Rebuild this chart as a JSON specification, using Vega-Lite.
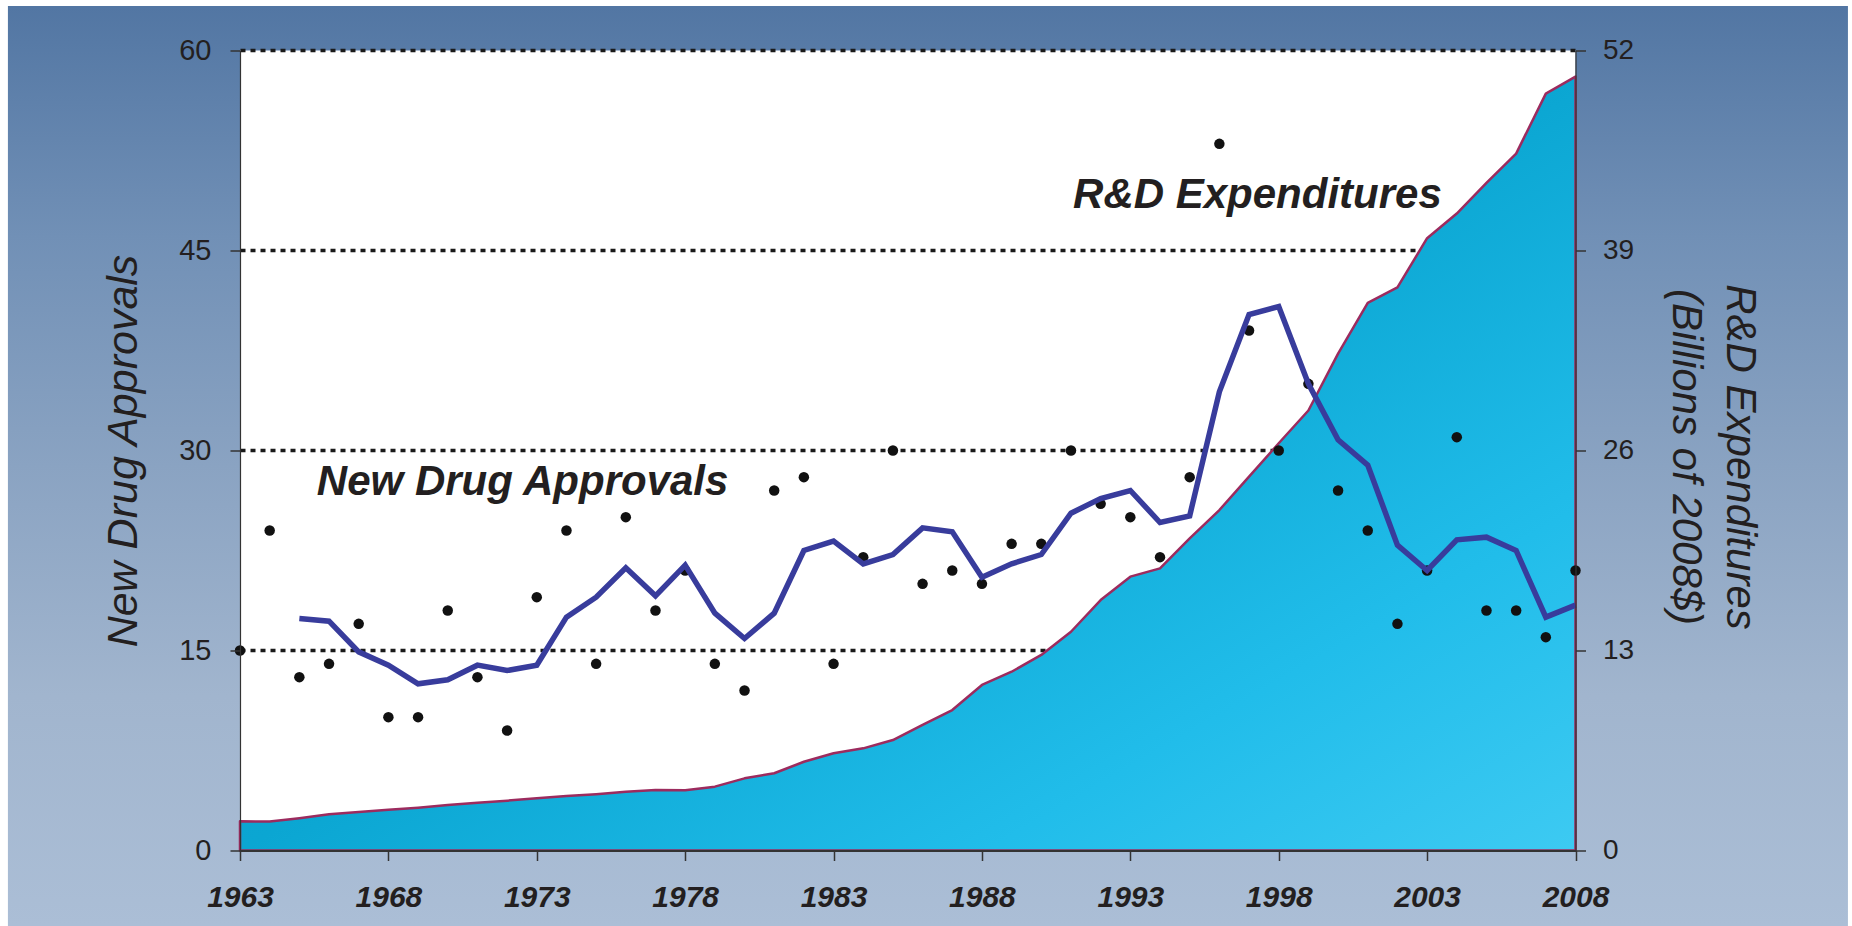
{
  "$schema": "https://vega.github.io/schema/vega-lite/v6.json",
  "width": 1335.5,
  "height": 800,
  "autosize": {"type": "none"},
  "padding": {"left": 240, "top": 50.5, "right": 276.5, "bottom": 75.5},
  "background": "white",
  "config": {
    "view": {"stroke": null},
    "axis": {"grid": false, "zindex": 1, "labelFont": "Liberation Sans", "titleFont": "Liberation Sans", "labelColor": "#231f20", "titleColor": "#231f20", "domainColor": "#333333", "tickColor": "#333333"}
  },
  "datasets": {
    "main": [
      {"year": 1963, "approvals": 15, "avg": null, "rd": 1.9},
      {"year": 1964, "approvals": 24, "avg": null, "rd": 1.88},
      {"year": 1965, "approvals": 13, "avg": 17.4, "rd": 2.1},
      {"year": 1966, "approvals": 14, "avg": 17.2, "rd": 2.35},
      {"year": 1967, "approvals": 17, "avg": 14.9, "rd": 2.5},
      {"year": 1968, "approvals": 10, "avg": 13.9, "rd": 2.65},
      {"year": 1969, "approvals": 10, "avg": 12.5, "rd": 2.78},
      {"year": 1970, "approvals": 18, "avg": 12.8, "rd": 2.95},
      {"year": 1971, "approvals": 13, "avg": 13.9, "rd": 3.1},
      {"year": 1972, "approvals": 9, "avg": 13.5, "rd": 3.24},
      {"year": 1973, "approvals": 19, "avg": 13.9, "rd": 3.39},
      {"year": 1974, "approvals": 24, "avg": 17.5, "rd": 3.54},
      {"year": 1975, "approvals": 14, "avg": 19.0, "rd": 3.66},
      {"year": 1976, "approvals": 25, "avg": 21.2, "rd": 3.82},
      {"year": 1977, "approvals": 18, "avg": 19.1, "rd": 3.93},
      {"year": 1978, "approvals": 21, "avg": 21.4, "rd": 3.92},
      {"year": 1979, "approvals": 14, "avg": 17.8, "rd": 4.15},
      {"year": 1980, "approvals": 12, "avg": 15.9, "rd": 4.69},
      {"year": 1981, "approvals": 27, "avg": 17.8, "rd": 5.02},
      {"year": 1982, "approvals": 28, "avg": 22.5, "rd": 5.77},
      {"year": 1983, "approvals": 14, "avg": 23.2, "rd": 6.32},
      {"year": 1984, "approvals": 22, "avg": 21.5, "rd": 6.64},
      {"year": 1985, "approvals": 30, "avg": 22.2, "rd": 7.18},
      {"year": 1986, "approvals": 20, "avg": 24.2, "rd": 8.16},
      {"year": 1987, "approvals": 21, "avg": 23.9, "rd": 9.13},
      {"year": 1988, "approvals": 20, "avg": 20.5, "rd": 10.76},
      {"year": 1989, "approvals": 23, "avg": 21.5, "rd": 11.62},
      {"year": 1990, "approvals": 23, "avg": 22.2, "rd": 12.71},
      {"year": 1991, "approvals": 30, "avg": 25.3, "rd": 14.22},
      {"year": 1992, "approvals": 26, "avg": 26.4, "rd": 16.28},
      {"year": 1993, "approvals": 25, "avg": 27.0, "rd": 17.8},
      {"year": 1994, "approvals": 22, "avg": 24.6, "rd": 18.34},
      {"year": 1995, "approvals": 28, "avg": 25.1, "rd": 20.29},
      {"year": 1996, "approvals": 53, "avg": 34.4, "rd": 22.13},
      {"year": 1997, "approvals": 39, "avg": 40.2, "rd": 24.3},
      {"year": 1998, "approvals": 30, "avg": 40.8, "rd": 26.47},
      {"year": 1999, "approvals": 35, "avg": 35.0, "rd": 28.6},
      {"year": 2000, "approvals": 27, "avg": 30.8, "rd": 32.3},
      {"year": 2001, "approvals": 24, "avg": 28.9, "rd": 35.6},
      {"year": 2002, "approvals": 17, "avg": 22.9, "rd": 36.6},
      {"year": 2003, "approvals": 21, "avg": 21.0, "rd": 39.8},
      {"year": 2004, "approvals": 31, "avg": 23.3, "rd": 41.4},
      {"year": 2005, "approvals": 18, "avg": 23.5, "rd": 43.4},
      {"year": 2006, "approvals": 18, "avg": 22.5, "rd": 45.3},
      {"year": 2007, "approvals": 16, "avg": 17.5, "rd": 49.2},
      {"year": 2008, "approvals": 21, "avg": 18.4, "rd": 50.3}
    ]
  },
  "layer": [
    {
      "layer": [
        {
          "data": {"values": [{}]},
          "mark": {"type": "rect", "fill": {"gradient": "linear", "x1": 0, "y1": 0, "x2": 0, "y2": 1, "stops": [
            {"offset": 0, "color": "#5276a3"},
            {"offset": 0.25, "color": "#7190b6"},
            {"offset": 0.5, "color": "#8aa3c2"},
            {"offset": 0.75, "color": "#a1b5ce"},
            {"offset": 1, "color": "#abbed6"}
          ]}},
          "encoding": {
            "x": {"datum": 1955.18, "type": "quantitative", "scale": {"domain": [1963, 2008], "nice": false, "zero": false}},
            "x2": {"datum": 2017.18},
            "y": {"datum": 63.34, "type": "quantitative", "scale": {"domain": [0, 60], "nice": false, "zero": false}, "axis": null},
            "y2": {"datum": -5.66}
          }
        },
        {
          "data": {"values": [{}]},
          "mark": {"type": "rect", "fill": "#ffffff"},
          "encoding": {
            "x": {"datum": 1963, "type": "quantitative"},
            "x2": {"datum": 2008},
            "y": {"datum": 60, "type": "quantitative", "axis": null},
            "y2": {"datum": 0}
          }
        },
        {
          "data": {"values": [{"v": 15}, {"v": 30}, {"v": 45}, {"v": 60}]},
          "mark": {"type": "rule", "color": "#1a1a1a", "strokeWidth": 3.5, "strokeDash": [5, 5]},
          "encoding": {
            "y": {"field": "v", "type": "quantitative", "axis": null}
          }
        }
      ]
    },
    {
      "data": {"name": "main"},
      "mark": {"type": "area", "stroke": "#9c2b5e", "strokeWidth": 2.5, "strokeJoin": "round", "fill": {"gradient": "linear", "x1": 0, "y1": 0, "x2": 1, "y2": 1, "stops": [
        {"offset": 0, "color": "#0590c2"},
        {"offset": 0.5, "color": "#0ba6d2"},
        {"offset": 0.78, "color": "#21bdea"},
        {"offset": 1, "color": "#3dcaf2"}
      ]}},
      "encoding": {
        "x": {"field": "year", "type": "quantitative"},
        "y": {"field": "rd", "type": "quantitative", "scale": {"domain": [0, 52], "nice": false, "zero": true},
          "axis": {"orient": "right", "values": [0, 13, 26, 39, 52], "zindex": 1, "tickSize": 10, "tickWidth": 1.5, "domainWidth": 1.2, "labelFontSize": 28, "labelPadding": 17, "labelBaseline": "middle",
            "title": ["R&D Expenditures", "(Billions of 2008$)"], "titleAngle": 90, "titleX": 151, "titleY": 406, "titleAlign": "center", "titleBaseline": "alphabetic", "titleLineHeight": 54, "titleFontSize": 42, "titleFontStyle": "italic", "titleFontWeight": "normal"}}
      }
    },
    {
      "data": {"name": "main"},
      "layer": [
        {
          "mark": {"type": "circle", "size": 110, "color": "#111111", "opacity": 1},
          "encoding": {
            "x": {"field": "year", "type": "quantitative",
              "axis": {"values": [1963, 1968, 1973, 1978, 1983, 1988, 1993, 1998, 2003, 2008], "format": "d", "title": null, "zindex": 1, "tickSize": 10, "tickWidth": 1.5, "domainWidth": 2, "labelFontSize": 30, "labelFontStyle": "italic", "labelFontWeight": "bold", "labelPadding": 22, "labelFlush": false, "labelOverlap": false}},
            "y": {"field": "approvals", "type": "quantitative", "scale": {"domain": [0, 60], "nice": false, "zero": false},
              "axis": {"orient": "left", "values": [0, 15, 30, 45, 60], "zindex": 1, "tickSize": 10, "tickWidth": 1.5, "domainWidth": 1.2, "labelFontSize": 29, "labelPadding": 19,
                "title": "New Drug Approvals", "titleAngle": 270, "titleX": -104, "titleY": 400, "titleAlign": "center", "titleBaseline": "alphabetic", "titleFontSize": 43, "titleFontStyle": "italic", "titleFontWeight": "normal"}}
          }
        },
        {
          "mark": {"type": "line", "color": "#383c9c", "strokeWidth": 5.5, "strokeJoin": "miter", "strokeCap": "butt"},
          "encoding": {
            "x": {"field": "year", "type": "quantitative"},
            "y": {"field": "avg", "type": "quantitative"}
          }
        },
        {
          "data": {"values": [{"label": "New Drug Approvals"}]},
          "mark": {"type": "text", "align": "left", "baseline": "alphabetic", "font": "Liberation Sans", "fontSize": 42, "fontStyle": "italic", "fontWeight": "bold", "color": "#231f20"},
          "encoding": {
            "x": {"datum": 1965.59, "type": "quantitative"},
            "y": {"datum": 26.66, "type": "quantitative"},
            "text": {"field": "label"}
          }
        },
        {
          "data": {"values": [{"label": "R&D Expenditures"}]},
          "mark": {"type": "text", "align": "left", "baseline": "alphabetic", "font": "Liberation Sans", "fontSize": 42, "fontStyle": "italic", "fontWeight": "bold", "color": "#231f20"},
          "encoding": {
            "x": {"datum": 1991.07, "type": "quantitative"},
            "y": {"datum": 48.17, "type": "quantitative"},
            "text": {"field": "label"}
          }
        }
      ]
    }
  ],
  "resolve": {"scale": {"y": "independent"}, "axis": {"y": "independent"}}
}
